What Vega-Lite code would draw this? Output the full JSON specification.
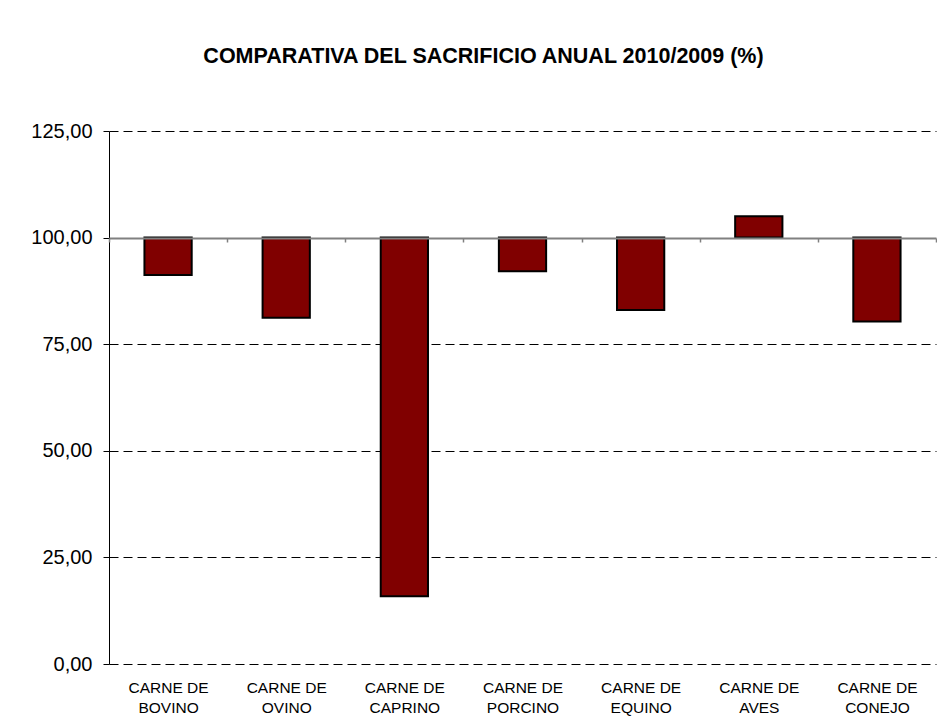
{
  "$schema": "https://vega.github.io/schema/vega-lite/v6.json",
  "width": 827,
  "height": 533,
  "padding": {"left": 30, "top": 45, "right": 0, "bottom": 0},
  "background": "white",
  "config": {"font": "Liberation Sans", "view": {"stroke": null}},
  "title": {
    "text": "COMPARATIVA DEL SACRIFICIO ANUAL 2010/2009 (%)",
    "font": "Liberation Sans",
    "fontSize": 21.5,
    "fontWeight": "bold",
    "color": "black",
    "anchor": "middle",
    "frame": "group",
    "dx": -39,
    "offset": 54
  },
  "data": {
    "values": [
      {"categoria": "CARNE DE BOVINO", "valor": 91.2},
      {"categoria": "CARNE DE OVINO", "valor": 81.2},
      {"categoria": "CARNE DE CAPRINO", "valor": 15.9},
      {"categoria": "CARNE DE PORCINO", "valor": 92.1},
      {"categoria": "CARNE DE EQUINO", "valor": 83.0},
      {"categoria": "CARNE DE AVES", "valor": 105.0},
      {"categoria": "CARNE DE CONEJO", "valor": 80.3}
    ]
  },
  "mark": {"type": "bar", "color": "#800000", "stroke": "black", "strokeWidth": 2, "width": {"band": 0.4}},
  "encoding": {
    "x": {
      "field": "categoria",
      "type": "nominal",
      "sort": null,
      "scale": {"paddingInner": 0, "paddingOuter": 0},
      "axis": {
        "title": null,
        "labelAngle": 0,
        "labelExpr": "datum.label ? ['CARNE DE', substring(datum.label, 9)] : ''",
        "labelFont": "Liberation Sans",
        "labelFontSize": 15.5,
        "labelLineHeight": 20,
        "labelColor": "black",
        "labelPadding": 438,
        "offset": -426,
        "domainColor": "#808080",
        "domainWidth": 2,
        "tickColor": "#808080",
        "tickWidth": 1.5,
        "tickSize": 4,
        "tickBand": "extent",
        "grid": false,
        "zindex": 1
      }
    },
    "y": {
      "field": "valor",
      "type": "quantitative",
      "scale": {"domain": [0, 125], "nice": false},
      "axis": {
        "title": null,
        "values": [0, 25, 50, 75, 100, 125],
        "labelExpr": "replace(format(datum.value, '.2f'), '.', ',')",
        "labelFont": "Liberation Sans",
        "labelFontSize": 20,
        "labelColor": "black",
        "labelPadding": 11,
        "domainColor": "black",
        "domainWidth": 1,
        "tickColor": "black",
        "tickSize": 6,
        "grid": true,
        "gridColor": "black",
        "gridDash": [9, 5],
        "gridWidth": 1,
        "gridOpacity": {"condition": {"test": "datum.value == 100", "value": 0}, "value": 1}
      }
    },
    "y2": {"datum": 100}
  }
}
